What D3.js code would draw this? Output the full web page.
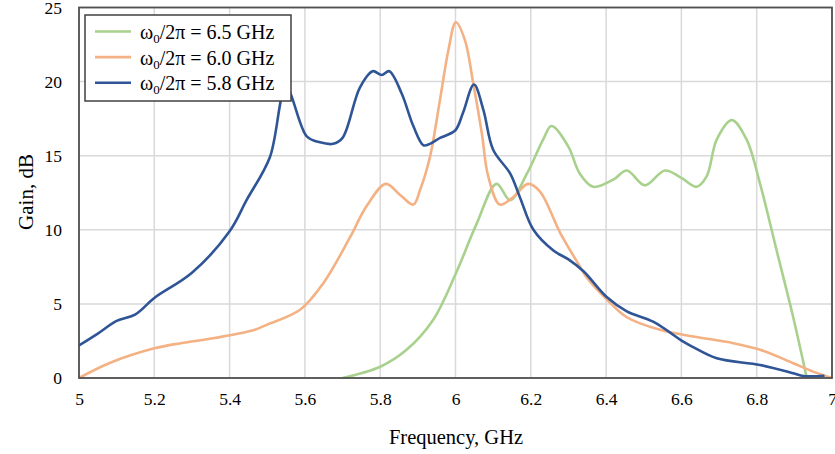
<!DOCTYPE html>
<html>
<head>
<meta charset="utf-8">
<script src="https://cdn.jsdelivr.net/npm/d3@7"></script>
<style>
  body { margin: 0; background: #fff; }
  text { font-family: "Liberation Serif", "Times New Roman", serif; fill: #000; }
</style>
</head>
<body>
<div class="chart"></div>
<script>
// series data (frequency GHz, gain dB)
const freq65 = [5.70, 5.80, 5.87, 5.94, 6.00, 6.056, 6.109, 6.145, 6.19, 6.233, 6.255, 6.30, 6.33, 6.366, 6.42, 6.455, 6.503, 6.556, 6.60, 6.64, 6.667, 6.694, 6.734, 6.773, 6.809, 6.853, 6.897, 6.933];
const gain65 = [0, 0.76, 1.9, 3.9, 7.0, 10.4, 13.1, 12.0, 13.8, 16.1, 17.0, 15.6, 13.8, 12.9, 13.4, 14.0, 13.0, 14.0, 13.5, 12.9, 13.6, 16.1, 17.4, 16.1, 13.1, 8.6, 4.1, 0];

const freq60 = [5.0, 5.08, 5.2, 5.27, 5.36, 5.46, 5.5, 5.587, 5.649, 5.72, 5.764, 5.815, 5.853, 5.888, 5.906, 5.932, 5.959, 5.981, 6.001, 6.025, 6.047, 6.07, 6.087, 6.118, 6.153, 6.193, 6.224, 6.278, 6.331, 6.348, 6.402, 6.455, 6.543, 6.632, 6.738, 6.809, 6.897, 6.95, 7.0];
const gain60 = [0, 1.0, 2.0, 2.35, 2.7, 3.2, 3.6, 4.6, 6.4, 9.5, 11.6, 13.1, 12.35, 11.7, 12.7, 14.9, 18.8, 22.1, 24.0, 22.8, 19.9, 16.5, 13.6, 11.7, 12.2, 13.1, 12.6, 9.8, 7.5, 6.8, 5.3, 4.1, 3.25, 2.8, 2.35, 1.9, 1.0, 0.43, 0];

const freq58 = [5.0, 5.05, 5.1, 5.15, 5.2, 5.3, 5.4, 5.445, 5.507, 5.55, 5.605, 5.64, 5.675, 5.70, 5.746, 5.78, 5.804, 5.824, 5.857, 5.888, 5.915, 5.932, 5.959, 5.999, 6.02, 6.049, 6.074, 6.10, 6.145, 6.171, 6.207, 6.26, 6.30, 6.34, 6.40, 6.455, 6.525, 6.605, 6.63, 6.694, 6.809, 6.897, 6.924, 6.98];
const gain58 = [2.2, 3.0, 3.85, 4.3, 5.4, 7.1, 9.9, 12.0, 14.9, 19.6, 16.3, 15.9, 15.8, 16.2, 19.6, 20.7, 20.45, 20.7, 19.2, 17.0, 15.7, 15.8, 16.2, 16.7, 17.9, 19.8, 18.1, 15.4, 13.8, 12.2, 10.0, 8.6, 8.0, 7.2, 5.5, 4.5, 3.8, 2.45, 2.1, 1.33, 0.88, 0.32, 0.13, 0.15];

const seriesNames = ["6.5 GHz", "6.0 GHz", "5.8 GHz"];
const seriesColors = ["#a9d18e", "#f4b183", "#2f5597"];
const xTicks = [5, 5.2, 5.4, 5.6, 5.8, 6, 6.2, 6.4, 6.6, 6.8, 7];
const yTicks = [0, 5, 10, 15, 20, 25];

const W = 835, H = 454;
const margin = { top: 7.5, right: 3, bottom: 76, left: 79 };
const width = W - margin.left - margin.right,
  height = H - margin.top - margin.bottom;

const svg = d3.select(".chart").append("svg")
  .attr("width", W).attr("height", H);
const g = svg.append("g")
  .attr("transform", "translate(" + margin.left + "," + margin.top + ")");

const xScale = d3.scaleLinear().domain([5, 7]).range([0, width]);
const yScale = d3.scaleLinear().domain([0, 25]).range([height, 0]);

// gridlines
g.append("g").selectAll("line").data(xTicks).join("line")
  .attr("x1", d => xScale(d)).attr("x2", d => xScale(d))
  .attr("y1", 0).attr("y2", height)
  .attr("stroke", "#d9d9d9").attr("stroke-width", 1.5);
g.append("g").selectAll("line").data(yTicks).join("line")
  .attr("x1", 0).attr("x2", width)
  .attr("y1", d => yScale(d)).attr("y2", d => yScale(d))
  .attr("stroke", "#d9d9d9").attr("stroke-width", 1.5);

// axes (labels only, lines drawn by the frame)
const xAxis = d3.axisBottom(xScale).tickValues(xTicks).tickSize(0).tickPadding(15).tickFormat(d3.format("~g"));
const yAxis = d3.axisLeft(yScale).tickValues(yTicks).tickSize(0).tickPadding(17);
const gx = g.append("g").attr("transform", `translate(0, ${height})`).call(xAxis);
const gy = g.append("g").call(yAxis);
[gx, gy].forEach(a => {
  a.select(".domain").remove();
  a.selectAll("text").style("font-family", "Liberation Serif, serif").attr("font-size", "17.5px").attr("fill", "#000");
});

// series
const series = [
  { f: freq65, v: gain65 },
  { f: freq60, v: gain60 },
  { f: freq58, v: gain58 }
];
const line = d3.line()
  .x(d => xScale(d[0]))
  .y(d => yScale(d[1]))
  .curve(d3.curveCatmullRom.alpha(0.5));

series.forEach((s, i) => {
  g.append("path")
    .datum(s.f.map((f, j) => [f, s.v[j]]))
    .attr("fill", "none")
    .attr("stroke", seriesColors[i])
    .attr("stroke-width", 2.6)
    .attr("stroke-linejoin", "round")
    .attr("d", line);
});

// frame
g.append("rect")
  .attr("x", 0).attr("y", 0).attr("width", width).attr("height", height)
  .attr("fill", "none").attr("stroke", "#505050").attr("stroke-width", 1.8);

// axis titles
svg.append("text")
  .attr("x", 456).attr("y", 444)
  .attr("text-anchor", "middle").attr("font-size", "20.5px")
  .text("Frequency, GHz");
svg.append("text")
  .attr("transform", "translate(33, 192) rotate(-90)")
  .attr("text-anchor", "middle").attr("font-size", "21px")
  .text("Gain, dB");

// legend
const legend = svg.append("g");
legend.append("rect")
  .attr("x", 85).attr("y", 15).attr("width", 206).attr("height", 86)
  .attr("fill", "#fff").attr("stroke", "#404040").attr("stroke-width", 1.5);
seriesNames.forEach((name, i) => {
  const yy = 31.5 + i * 25.6;
  legend.append("line")
    .attr("x1", 95).attr("x2", 131).attr("y1", yy).attr("y2", yy)
    .attr("stroke", seriesColors[i]).attr("stroke-width", 2.6);
  const t = legend.append("text")
    .attr("x", 140).attr("y", yy + 7.5).attr("font-size", "20px");
  t.append("tspan").text("ω");
  t.append("tspan").attr("font-size", "13px").attr("dy", 4).text("0");
  t.append("tspan").attr("dy", -4).text("/2π = " + name);
});
</script>
</body>
</html>
